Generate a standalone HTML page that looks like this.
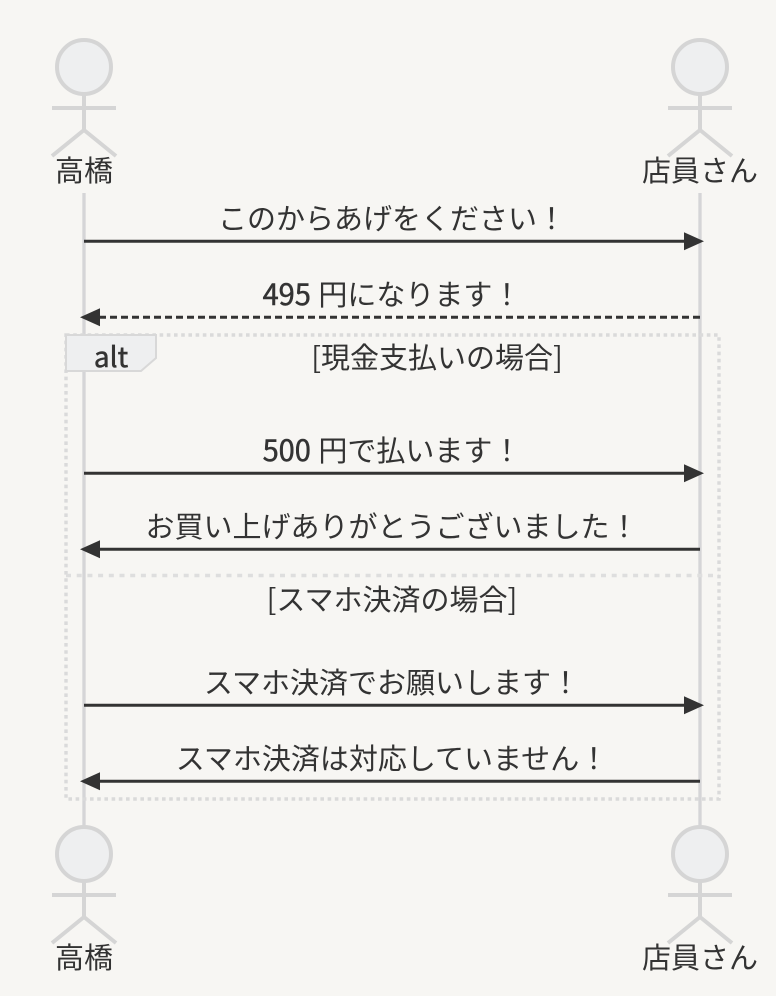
<!DOCTYPE html>
<html lang="ja"><head><meta charset="utf-8"><title>Sequence diagram</title>
<style>
html,body{margin:0;padding:0;background:#f7f6f3}
svg{display:block}
text{font-family:"Noto Sans CJK JP","Liberation Sans",sans-serif;font-size:29px;fill:#333;text-anchor:middle}
.d{stroke:#333;stroke-width:.5px}
.l{stroke:#d5d5d7;stroke-width:3.3;fill:none}
.a{stroke:#d5d5d5;stroke-width:4;fill:none}
.h{stroke:#d5d5d5;stroke-width:4;fill:#eeeff0}
.m{stroke:#333;stroke-width:3;fill:none}
.f{stroke:#dadada;stroke-width:3.4;stroke-dasharray:3.6 3.6;fill:none}
.v{stroke:#dedede;stroke-width:3.4;stroke-dasharray:5 5.7;fill:none}
.t{fill:#333;stroke:none}
</style></head><body>
<svg width="776" height="996" viewBox="0 0 776 996" xmlns="http://www.w3.org/2000/svg">
<rect width="776" height="996" fill="#f7f6f3"/>
<line class="l" x1="84" y1="193" x2="84" y2="826"/>
<line class="l" x1="700" y1="193" x2="700" y2="826"/>

<defs>
<g id="actor">
<circle class="h" cx="0" cy="0" r="27"/>
<path class="a" d="M0 27V63M-32 41H32M0 63L-32 89M0 63L32 89"/>
</g>
</defs>
<use href="#actor" x="84" y="67"/>
<use href="#actor" x="700" y="67"/>
<use href="#actor" x="84" y="854"/>
<use href="#actor" x="700" y="854"/>
<text x="84" y="181">高橋</text>
<text x="700" y="181">店員さん</text>
<text x="84" y="968">高橋</text>
<text x="700" y="968">店員さん</text>

<rect class="f" x="66" y="335" width="653" height="464"/>
<line class="v" x1="66" y1="575.5" x2="719" y2="575.5"/>
<polygon points="66,335 156,335 156,358 141,371 66,371" fill="#eeeff0" stroke="#d8d8d8" stroke-width="2"/>
<text x="111" y="367" style="font-size:28px" class="d">alt</text>
<text x="437" y="368">[現金支払いの場合]</text>
<text x="392" y="610">[スマホ決済の場合]</text>

<text x="392" y="229">このからあげをください！</text>
<line class="m" x1="84" y1="241.3" x2="686" y2="241.3"/>
<polygon class="t" points="684,232.3 704,241.3 684,250.3"/>

<text x="392" y="305"><tspan class="d">495</tspan> <tspan dx="1">円</tspan>になります！</text>
<line class="m" x1="700" y1="317.3" x2="98" y2="317.3" stroke-dasharray="7 4"/>
<polygon class="t" points="100,308.3 80,317.3 100,326.3"/>

<text x="392" y="461"><tspan class="d">500</tspan> <tspan dx="1">円</tspan>で払います！</text>
<line class="m" x1="84" y1="473.3" x2="686" y2="473.3"/>
<polygon class="t" points="684,464.3 704,473.3 684,482.3"/>

<text x="392" y="537">お買い上げありがとうございました！</text>
<line class="m" x1="700" y1="549.3" x2="98" y2="549.3"/>
<polygon class="t" points="100,540.3 80,549.3 100,558.3"/>

<text x="392" y="693">スマホ決済でお願いします！</text>
<line class="m" x1="84" y1="705.3" x2="686" y2="705.3"/>
<polygon class="t" points="684,696.3 704,705.3 684,714.3"/>

<text x="392" y="769">スマホ決済は対応していません！</text>
<line class="m" x1="700" y1="781.3" x2="98" y2="781.3"/>
<polygon class="t" points="100,772.3 80,781.3 100,790.3"/>
</svg>
</body></html>
